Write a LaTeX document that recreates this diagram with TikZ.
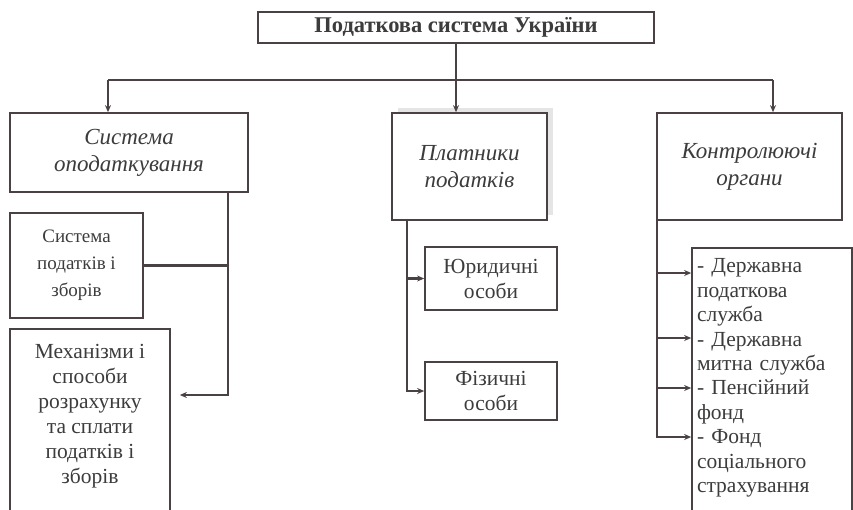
\documentclass[tikz,border=0pt]{standalone}
\usepackage{fontspec}
\setmainfont{Liberation Serif}
\usetikzlibrary{arrows.meta,calc,shadows}
\definecolor{ln}{HTML}{4A4145}
\definecolor{tx}{HTML}{3C3C3C}
\begin{document}
\begin{tikzpicture}[x=1pt,y=-1pt,
  box/.style={draw=ln, line width=1.7pt, text=tx, align=center, inner sep=2pt, fill=white},
  conn/.style={draw=ln, line width=2.1pt},
  arr/.style={conn, -{Stealth[length=7pt,width=6pt]}},
  hdr/.style={box, font=\fontsize{23}{27}\selectfont\itshape},
  sub/.style={box, font=\fontsize{21.5}{25}\selectfont}]
\useasboundingbox[fill=white] (0,0) rectangle (853,509);

\node[box, minimum width=396pt, minimum height=31pt, font=\fontsize{22.5}{24}\selectfont\bfseries] (title) at (456,27.5) {Податкова система України};

\node[hdr, minimum width=238pt, minimum height=79pt] (sys) at (129,152.5) {Система\\оподаткування};
\node[hdr, minimum width=155pt, minimum height=107pt, drop shadow={shadow xshift=6pt, shadow yshift=5pt, fill=gray!40}] (mid) at (469.5,166.5) {Платники\\податків};
\node[hdr, minimum width=185pt, minimum height=107pt] (ctrl) at (749.5,166.5) {Контролюючі\\органи};

\node[sub, minimum width=133pt, minimum height=105pt, font=\fontsize{19}{27}\selectfont] (tax) at (76.5,265.5) {Система\\податків і\\зборів};
\node[sub, minimum width=160pt, minimum height=195pt, anchor=north] (mech) at (90,328) {Механізми і\\способи\\розрахунку\\та сплати\\податків і\\зборів\\\mbox{}};

\node[sub, minimum width=132pt, minimum height=63pt] (jur) at (491,278.5) {Юридичні\\особи};
\node[sub, minimum width=132pt, minimum height=58pt] (fiz) at (491,391) {Фізичні\\особи};

\node[box, anchor=north, minimum width=160pt, minimum height=280pt, text width=150pt, align=left, font=\fontsize{21.5}{24.4}\selectfont] (list) at (772,247) {- Державна\\податкова\\служба\\- Державна\\митна служба\\- Пенсійний\\фонд\\- Фонд\\соціального\\страхування\\\mbox{}};

% top connectors
\coordinate (hl) at (108,80);
\coordinate (hr) at (773,80);
\draw[conn] (hl) -- (hr);
\draw[arr] (title.south) -- (title.south |- mid.north);
\draw[arr] (hl) -- (hl |- sys.north);
\draw[arr] (hr) -- (hr |- ctrl.north);

% left branch
\coordinate (lv) at ($(sys.south east)+(-21,0)$);
\draw[conn] (lv) |- (tax.east);
\draw[arr, shorten >=9pt] (lv) |- ($(mech.north east)+(0,67)$);

% middle branch
\coordinate (mv) at ($(mid.south west)+(16,0)$);
\draw[arr] (mv) |- (jur.west);
\draw[arr] (mv) |- (fiz.west);

% right branch
\coordinate (rv) at ($(ctrl.south west)+(1,0)$);
\draw[arr] (rv) |- ($(list.north west)+(0,26)$);
\draw[arr] (rv) |- ($(list.north west)+(0,91)$);
\draw[arr] (rv) |- ($(list.north west)+(0,141)$);
\draw[arr] (rv) |- ($(list.north west)+(0,190)$);
\end{tikzpicture}
\end{document}
